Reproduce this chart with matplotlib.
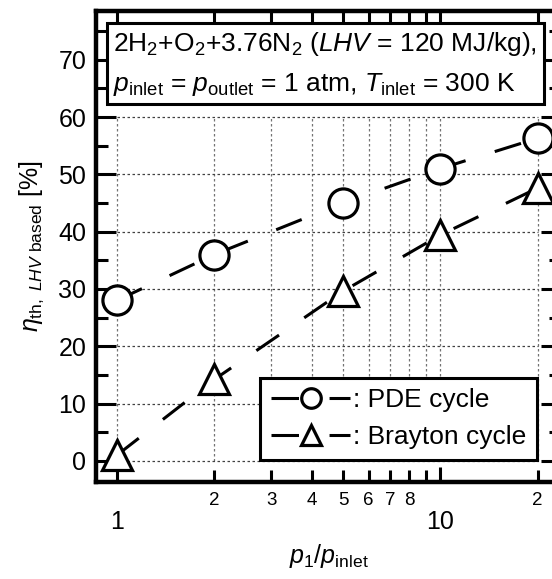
import numpy as np
import matplotlib
matplotlib.use("Agg")
import matplotlib.pyplot as plt

plt.rcParams['font.family'] = ['Liberation Sans', 'DejaVu Sans']
plt.rcParams['mathtext.fontset'] = 'custom'
plt.rcParams['mathtext.rm'] = 'Liberation Sans'
plt.rcParams['mathtext.it'] = 'Liberation Sans:italic'
plt.rcParams['mathtext.bf'] = 'Liberation Sans:bold'

# data
pressure_ratio = [1, 2, 5, 10, 20]
eta_pde = [28.0, 36.0, 45.0, 51.0, 56.3]
eta_brayton = [1.0, 14.2, 29.6, 39.4, 47.6]
series_labels = [': PDE cycle', ': Brayton cycle']
minor_labels = ['2', '3', '4', '5', '6', '7', '8', '', '2']
y_major = [0, 10, 20, 30, 40, 50, 60, 70]

fig = plt.figure(figsize=(5.52, 5.79), dpi=100)
ax = fig.add_axes([0.174, 0.1675, 0.842, 0.8135])

ax.set_xscale('log')
ax.set_xlim(0.861, 23.6)
ax.set_ylim(-3.7, 78.5)

lw = 2.2
dash = (9, 10)
ax.plot(pressure_ratio, eta_pde, color='k', lw=lw, dashes=dash,
        dash_capstyle='butt', marker='o', ms=21, mew=2.3, mfc='white',
        mec='k', label=series_labels[0], zorder=5, clip_on=False)
ax.plot(pressure_ratio, eta_brayton, color='k', lw=lw, dashes=dash,
        dash_capstyle='butt', marker='^', ms=21, mew=2.3, mfc='white',
        mec='k', label=series_labels[1], zorder=5, clip_on=False)

# grid only inside the data box
x_grid = [1, 2, 3, 4, 5, 6, 7, 8, 9, 10, 20]
y_grid = [0, 10, 20, 30, 40, 50, 60]
for xv in x_grid:
    ax.plot([xv, xv], [y_grid[0], y_grid[-1]], color='0.45', lw=0.9,
            dashes=(2, 2), zorder=1)
for yv in y_grid:
    ax.plot([x_grid[0], x_grid[-1]], [yv, yv], color='0.25', lw=0.9,
            dashes=(2, 2), zorder=1)

# ticks
ax.set_xticks([1, 10])
ax.set_xticklabels(['1', '10'])
minor_pos = [2, 3, 4, 5, 6, 7, 8, 9, 20]
ax.set_xticks(minor_pos, minor=True)
ax.set_xticklabels(minor_labels, minor=True)
ax.set_yticks(y_major)
ax.set_yticks(np.arange(5, 80, 10), minor=True)

ax.tick_params(axis='both', which='both', direction='in', top=True,
               right=True, width=2.2, colors='k')
ax.tick_params(axis='y', which='major', length=14.4, labelsize=18, pad=7)
ax.tick_params(axis='y', which='minor', length=8.6)
ax.tick_params(axis='x', which='major', length=10.8, labelsize=18, pad=20)
ax.tick_params(axis='x', which='minor', length=8.6, labelsize=13.5, pad=7)

for sp in ax.spines.values():
    sp.set_linewidth(3.2)

ax.set_xlabel(r'$p_1/p_\mathrm{inlet}$', fontsize=18, labelpad=6)
ax.set_ylabel(r'$\eta_{\mathrm{th,}\ LHV\ \mathrm{based}}$ [%]', fontsize=18,
              labelpad=9)

ax.text(0.037, 0.96,
        '2H$_2$+O$_2$+3.76N$_2$ ($LHV$ = 120 MJ/kg),\n'
        r'$p_\mathrm{inlet}$ = $p_\mathrm{outlet}$ = 1 atm, '
        r'$T_\mathrm{inlet}$ = 300 K',
        transform=ax.transAxes, fontsize=19, va='top', ha='left',
        linespacing=1.65, zorder=6,
        bbox=dict(boxstyle='square,pad=0.25', fc='white', ec='k', lw=2.2))

leg = ax.legend(loc='lower right', bbox_to_anchor=(0.948, 0.047),
                borderaxespad=0, fontsize=19, markerscale=0.67,
                handlelength=3.0, handletextpad=0.1, fancybox=False,
                edgecolor='k', framealpha=1, borderpad=0.4,
                labelspacing=0.5)
leg.get_frame().set_linewidth(2.2)
leg.set_zorder(7)

fig.savefig('out.png', dpi=100)
